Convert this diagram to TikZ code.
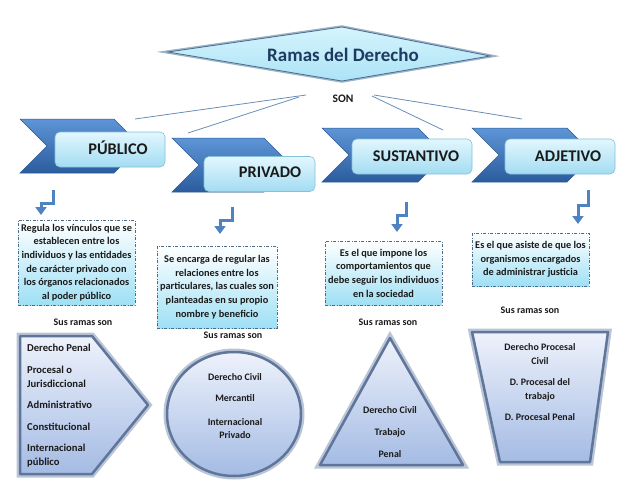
\documentclass[tikz,border=0pt]{standalone}
\usepackage{fontspec}
\setmainfont{Carlito}
\usetikzlibrary{arrows.meta,shapes.geometric}
\definecolor{chevtop}{HTML}{5E95D6}
\definecolor{chevbot}{HTML}{2A5C9E}
\definecolor{chevline}{HTML}{2D5A94}
\definecolor{rtop}{HTML}{E2F7FE}
\definecolor{rbot}{HTML}{A3DCF2}
\definecolor{rline}{HTML}{86BFDA}
\definecolor{dtop}{HTML}{D6F4FD}
\definecolor{dbot}{HTML}{ABE3F6}
\definecolor{dline}{HTML}{4B6D8E}
\definecolor{dglow}{HTML}{9DB3C8}
\definecolor{titlec}{HTML}{1F3A60}
\definecolor{txt}{HTML}{1A1A1A}
\definecolor{conn}{HTML}{6A8DB8}
\definecolor{arr}{HTML}{4F82C0}
\definecolor{bbot}{HTML}{9EE0F5}
\definecolor{bline}{HTML}{4D6A88}
\definecolor{stop}{HTML}{EEF2FB}
\definecolor{sbot}{HTML}{A4BBE4}
\definecolor{sline}{HTML}{5F7599}
\definecolor{sglow}{HTML}{BAC5D7}
\begin{document}
\begin{tikzpicture}[x=1pt,y=-1pt,
  chevshape/.style={top color=chevtop,bottom color=chevbot,draw=chevline,line width=0.5pt},
  headbox/.style={rectangle,rounded corners=5pt,top color=rtop,bottom color=rbot,draw=rline,line width=0.6pt,minimum height=35pt,inner sep=0pt},
  headtxt/.style={font=\fontsize{16.3}{19}\selectfont\bfseries,text=txt,inner sep=0pt},
  descbox/.style={rectangle,top color=white,bottom color=bbot,draw=bline,line width=0.7pt,dash pattern=on 3pt off 1.5pt on 1pt off 1.5pt,align=center,inner sep=0pt,font=\fontsize{10.3}{13.7}\selectfont\bfseries,text=txt},
  ramas/.style={font=\fontsize{10}{12}\selectfont\bfseries,text=txt,inner sep=0pt},
  bigshape/.style={preaction={draw=sglow,line width=7pt},top color=stop,bottom color=sbot,draw=sline,line width=2.5pt,line join=round},
  shtxt/.style={font=\fontsize{9.9}{13.5}\selectfont\bfseries,text=txt,align=center,inner sep=0pt},
  pentxt/.style={font=\fontsize{10.6}{14.5}\selectfont\bfseries,text=txt,align=left,anchor=west,inner sep=0pt},
  connline/.style={draw=conn,line width=0.8pt},
  bentarrow/.style={draw=arr,line width=3pt,line join=miter,-{Triangle[width=11pt,length=8pt]}}
]
\useasboundingbox (0,0) rectangle (638,493);

% title diamond
\path[preaction={draw=dglow,line width=3.5pt},top color=dtop,bottom color=dbot,draw=dline,line width=0.8pt,line join=miter]
  (168,52) -- (342,27) -- (490,56) -- (342,81) -- cycle;
\node[font=\fontsize{19}{22}\selectfont\bfseries,text=titlec,inner sep=0pt] (title) at (343,55) {Ramas del Derecho};
\node[font=\fontsize{11.5}{13}\selectfont\bfseries,text=txt,inner sep=0pt] (son) at (343,99) {SON};

% connectors
\coordinate (c1a) at (306,95);  \coordinate (c1b) at (135,119);
\coordinate (c2a) at (299,97);  \coordinate (c2b) at (188,133);
\coordinate (c3a) at (372,96);  \coordinate (c3b) at (443,130);
\coordinate (c4a) at (374,95);  \coordinate (c4b) at (522,119);
\draw[connline] (c1a) -- (c1b);
\draw[connline] (c2a) -- (c2b);
\draw[connline] (c3a) -- (c3b);
\draw[connline] (c4a) -- (c4b);

% chevrons
\path[chevshape] (20,119) -- (114,119) -- (141,146) -- (114,173) -- (20,173) -- (47,146) -- cycle;
\path[chevshape] (172,138) -- (264,138) -- (291,165) -- (264,192) -- (172,192) -- (199,165) -- cycle;
\path[chevshape] (322,128) -- (418,128) -- (445,155) -- (418,182) -- (322,182) -- (349,155) -- cycle;
\path[chevshape] (472,128) -- (567,128) -- (594,155) -- (567,182) -- (472,182) -- (499,155) -- cycle;

% head boxes
\node[headbox,minimum width=110pt] (rpub) at (110,149.5) {};
\node[headbox,minimum width=111pt] (rpriv) at (259.5,174) {};
\node[headbox,minimum width=120pt] (rsust) at (412,156.5) {};
\node[headbox,minimum width=110pt] (radj) at (560,156.5) {};
\node[headtxt] (tpub) at (118,148) {PÚBLICO};
\node[headtxt] (tpriv) at (270,172) {PRIVADO};
\node[headtxt] (tsust) at (416,156) {SUSTANTIVO};
\node[headtxt] (tadj) at (568,156) {ADJETIVO};

% bent arrows
\coordinate (a1s) at (53,190); \coordinate (a1e) at (41,215);
\coordinate (a2s) at (232,207); \coordinate (a2e) at (220,234);
\coordinate (a3s) at (406,202); \coordinate (a3e) at (397,232);
\coordinate (a4s) at (588,190); \coordinate (a4e) at (578,224);
\draw[bentarrow] (a1s) -- (53,203) -| (a1e);
\draw[bentarrow] (a2s) -- (232,220) -| (a2e);
\draw[bentarrow] (a3s) -- (406,215) -| (a3e);
\draw[bentarrow] (a4s) -- (588,205) -| (a4e);

% description boxes
\node[descbox,minimum width=117pt,minimum height=85pt] (d1) at (76.5,262.5)
  {Regula los vínculos que se\\establecen entre los\\individuos y las entidades\\de carácter privado con\\los órganos relacionados\\al poder público};
\node[descbox,minimum width=120pt,minimum height=82pt] (d2) at (217,287)
  {Se encarga de regular las\\relaciones entre los\\particulares, las cuales son\\planteadas en su propio\\nombre y beneficio};
\node[descbox,minimum width=117pt,minimum height=64pt] (d3) at (383.5,273)
  {Es el que impone los\\comportamientos que\\debe seguir los individuos\\en la sociedad};
\node[descbox,minimum width=117pt,minimum height=53pt] (d4) at (530.5,259.5)
  {Es el que asiste de que los\\organismos encargados\\de administrar justicia};

% "Sus ramas son"
\node[ramas] (s1) at (83,322) {Sus ramas son};
\node[ramas] (s2) at (233,335) {Sus ramas son};
\node[ramas] (s3) at (388,322) {Sus ramas son};
\node[ramas] (s4) at (530,310) {Sus ramas son};

% bottom shapes
\path[bigshape] (20,336) -- (92,336) -- (148,405) -- (92,474) -- (20,474) -- cycle;
\path[bigshape] (234,414) ellipse [x radius=67pt,y radius=62pt];
\path[bigshape] (390,338) -- (463,465) -- (320,465) -- cycle;
\path[bigshape] (472,332) -- (608,332) -- (590,462) -- (500,462) -- cycle;

% texts in shape 1
\node[pentxt] (p1) at (27,348) {Derecho Penal};
\node[pentxt] (p2) at (27,377) {Procesal o\\Jurisdiccional};
\node[pentxt] (p3) at (27,405) {Administrativo};
\node[pentxt] (p4) at (27,427) {Constitucional};
\node[pentxt] (p5) at (27,455.5) {Internacional\\público};

% circle
\node[shtxt] (e1) at (235,377) {Derecho Civil};
\node[shtxt] (e2) at (235,398) {Mercantil};
\node[shtxt,font=\fontsize{9.9}{13}\selectfont\bfseries] (e3) at (235,428.5) {Internacional\\Privado};

% triangle
\node[shtxt] (t1) at (390,410) {Derecho Civil};
\node[shtxt] (t2) at (390,433) {Trabajo};
\node[shtxt] (t3) at (390,454) {Penal};

% trapezoid
\node[shtxt,font=\fontsize{9.9}{14}\selectfont\bfseries] (z1) at (540,354) {Derecho Procesal\\Civil};
\node[shtxt,font=\fontsize{9.9}{14}\selectfont\bfseries] (z2) at (540,390) {D. Procesal del\\trabajo};
\node[shtxt] (z3) at (540,417) {D. Procesal Penal};
\end{tikzpicture}
\end{document}
